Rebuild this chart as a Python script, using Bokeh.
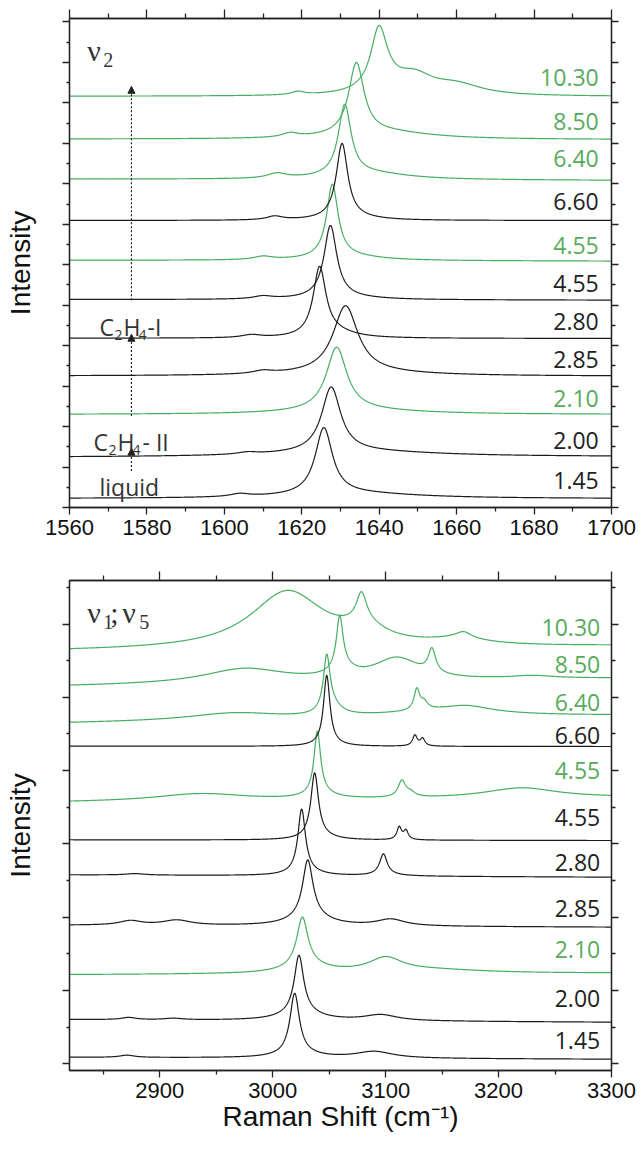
import numpy as np
from bokeh.plotting import figure
from bokeh.models import Range1d, FixedTicker, LinearAxis, Label, Arrow, NormalHead, CustomJSTickFormatter
from bokeh.layouts import column
from bokeh.embed import file_html
from bokeh.resources import INLINE

BLACK = "#1c1c1c"
GREEN = "#47ad63"
GREEN_TXT = "#58aa5c"
AX = "#222222"

# ---------------- data ----------------
pressures = ["1.45", "2.00", "2.10", "2.85", "2.80", "4.55", "4.55", "6.60", "6.40", "8.50", "10.30"]
is_green = [False, False, True, False, False, False, True, False, True, True, True]

# nu2 panel: baseline (left, right) and Lorentzian peaks (center, hwhm, height)
nu2_base_left = [0.222, 1.243, 2.299, 3.251, 4.184, 5.141, 6.112, 7.093, 8.118, 9.105, 10.162]
nu2_base_right = [0.220, 1.256, 2.299, 3.246, 4.177, 5.124, 6.088, 7.093, 8.084, 9.094, 10.157]
nu2_peaks = [
    [(1625.7, 2.7, 1.65), (1634, 20, 0.12), (1604, 3, 0.07)],
    [(1627.6, 3.0, 1.61), (1635, 25, 0.13), (1606, 3, 0.05)],
    [(1629.0, 3.2, 1.57), (1634, 20, 0.10)],
    [(1631.3, 3.9, 1.66), (1635, 20, 0.08), (1610, 3, 0.07)],
    [(1624.6, 2.0, 1.70), (1629, 6, 0.12), (1607, 3, 0.07)],
    [(1627.4, 2.0, 1.78), (1630, 10, 0.06), (1610, 3, 0.07)],
    [(1627.9, 1.8, 1.80), (1632, 10, 0.10), (1610, 3, 0.08)],
    [(1630.4, 1.8, 1.85), (1633, 8, 0.06), (1613, 2.5, 0.09)],
    [(1631.1, 2.0, 1.75), (1638, 12, 0.15), (1613.6, 3, 0.12)],
    [(1634.1, 2.4, 1.77), (1642, 14, 0.17), (1617, 2.5, 0.10)],
    [(1639.9, 2.5, 1.35), (1641, 4, 0.25), (1649, 6, 0.45), (1660, 8, 0.25), (1619, 2, 0.08)],
]
nu2_label_y = [0.675, 1.663, 2.694, 3.665, 4.605, 5.536, 6.483, 7.553, 8.616, 9.530, 10.635]

# nu1; nu5 panel
nu15_base_left = [0.088, 0.603, 1.215, 1.890, 2.578, 3.056, 3.567, 4.333, 4.645, 5.149, 5.630]
nu15_base_right = [0.062, 0.567, 1.235, 1.864, 2.546, 3.046, 3.632, 4.329, 4.746, 5.256, 5.696]
nu15_peaks = [
    [(3019.4, 5, 0.82), (3022, 20, 0.06), (3090, 20, 0.09), (2871, 8, 0.03)],
    [(3023.2, 5, 0.78), (3025, 20, 0.11), (3095.7, 18, 0.08), (2872.4, 8, 0.03), (2912, 10, 0.02)],
    [(3026.2, 6, 0.66), (3030, 22, 0.10), (3100, 18, 0.19), (3140, 60, 0.05)],
    [(3031, 5.5, 0.77), (3033, 20, 0.13), (3104.6, 15, 0.09), (2874, 12, 0.06), (2915, 15, 0.07)],
    [(3025.6, 4, 0.85), (3028, 15, 0.06), (3098, 4, 0.28), (3100, 15, 0.02), (2878, 10, 0.02)],
    [(3037.1, 4, 0.86), (3040, 15, 0.06), (3112, 2.5, 0.17), (3118, 2.5, 0.12)],
    [(3039.5, 3.5, 0.85), (3042, 15, 0.07), (3114.3, 4, 0.22), (3122, 5, 0.06), (3220, 40, 0.14), (2936, 50, 0.10)],
    [(3047.8, 3.4, 0.93), (3050, 12, 0.04), (3125.9, 2.5, 0.145), (3132.7, 2.5, 0.10)],
    [(3047.8, 3.5, 0.72), (3052, 10, 0.14), (3150, 70, 0.09), (3127.6, 3, 0.28), (3134, 4, 0.10), (3172, 25, 0.08), (2965.5, 50, 0.10)],
    [(3059.3, 3.5, 0.70), (3062, 12, 0.12), (2975, 45, 0.20), (3110, 25, 0.30), (3141, 4, 0.32), (3230, 25, 0.04)],
    [(3013, 40, 0.78), (3078.6, 5.5, 0.38), (3082, 22, 0.18), (3169, 8, 0.08), (3165, 30, 0.08)],
]
nu15_label_y = [0.318, 0.887, 1.555, 2.115, 2.742, 3.360, 4.001, 4.479, 4.925, 5.447, 5.948]

nu2_xticks = [1560, 1580, 1600, 1620, 1640, 1660, 1680, 1700]
nu2_xminor = [1570, 1590, 1610, 1630, 1650, 1670, 1690]
nu15_xticks = [2900, 3000, 3100, 3200, 3300]
nu15_xminor = [2850, 2950, 3050, 3150, 3250]


def spectrum(x, left, right, peaks):
    y = left + (right - left) * (x - x[0]) / (x[-1] - x[0])
    for c, w, h in peaks:
        y = y + h / (1.0 + ((x - c) / w) ** 2)
    return y


def style_axis(ax, ticks, minor, tick_out, minor_out, show_labels):
    ax.ticker = FixedTicker(ticks=ticks, minor_ticks=minor)
    ax.axis_line_color = AX
    ax.axis_line_width = 1.3
    ax.major_tick_line_color = AX
    ax.major_tick_line_width = 1.3
    ax.minor_tick_line_color = AX
    ax.minor_tick_line_width = 1.3
    ax.major_tick_in = 0
    ax.minor_tick_in = 0
    ax.major_tick_out = tick_out
    ax.minor_tick_out = minor_out
    ax.axis_label_text_font = "Liberation Sans"
    ax.axis_label_text_font_size = "28px"
    ax.axis_label_text_font_style = "normal"
    ax.axis_label_text_color = "#111111"
    if show_labels:
        ax.major_label_text_font = "Liberation Sans"
        ax.major_label_text_font_size = "22px"
        ax.major_label_text_color = "#111111"
        ax.major_label_standoff = 5
    else:
        ax.formatter = CustomJSTickFormatter(code="return ''")
        ax.major_label_text_font_size = "0px"
        ax.major_label_standoff = 0


def make_panel(height, xr, yr, border_top, border_bottom, xticks, xminor, yticks, yminor, xlabel=None):
    p = figure(width=640, height=height, x_range=Range1d(*xr), y_range=Range1d(*yr),
               output_backend="svg", toolbar_location=None,
               min_border_left=69, min_border_right=29,
               min_border_top=border_top, min_border_bottom=border_bottom)
    p.xgrid.visible = False
    p.ygrid.visible = False
    p.outline_line_color = AX
    p.outline_line_width = 1.3
    p.background_fill_color = "white"
    p.border_fill_color = "white"
    bottom = p.below[0]
    left = p.left[0]
    style_axis(bottom, xticks, xminor, 7, 4, True)
    if xlabel:
        bottom.axis_label = xlabel
        bottom.axis_label_standoff = 0
    style_axis(left, yticks, yminor, 7, 3, False)
    left.axis_label = "Intensity"
    left.axis_label_standoff = 27
    top = LinearAxis()
    style_axis(top, xticks, xminor, 9, 5, False)
    p.add_layout(top, "above")
    right = LinearAxis()
    style_axis(right, yticks, yminor, 7, 4, False)
    p.add_layout(right, "right")
    return p


def add_spectra(p, x, bl, br, peaks, label_y, label_x):
    for i in range(len(pressures)):
        y = spectrum(x, bl[i], br[i], peaks[i])
        p.line(x, y, line_color=GREEN if is_green[i] else BLACK, line_width=1.2)
        p.add_layout(Label(x=label_x, y=label_y[i], text=pressures[i], text_align="right",
                           text_baseline="middle", text_font="Open Sans", text_font_size="23px",
                           text_color=GREEN_TXT if is_green[i] else "#222222"))


def txt(p, x, y, text, size, font="Open Sans", dx=0, dy=0, color="#333333"):
    p.add_layout(Label(x=x, y=y, x_offset=dx, y_offset=dy, text=text, text_font=font,
                       text_font_size=size, text_color=color, text_align="left",
                       text_baseline="alphabetic"))


# ---------------- top panel: nu2 ----------------
p1 = make_panel(550, (1560, 1700), (0, 12.086), 18, 43, nu2_xticks, nu2_xminor,
                list(range(0, 13)), [k + 0.5 for k in range(0, 12)])
x1 = np.linspace(1560, 1700, 1401)
add_spectra(p1, x1, nu2_base_left, nu2_base_right, nu2_peaks, nu2_label_y, 1696.7)

# nu2 title
txt(p1, 1564.6, 11.30, "ν", "30px", font="Liberation Serif")
txt(p1, 1564.6, 11.30, "2", "20px", font="Liberation Serif", dx=16, dy=-10)

# phase labels and dotted arrows
arrow_x = 1576
for y0, y1 in [(5.124, 10.41), (2.264, 4.283), (0.905, 1.466)]:
    p1.add_layout(Arrow(x_start=arrow_x, y_start=y0, x_end=arrow_x, y_end=y1,
                        line_dash="2 2", line_width=1.2, line_color=AX,
                        end=NormalHead(size=7, fill_color=AX, line_color=AX)))
tx = 1567.75
txt(p1, tx, 4.464, "C", "23px")
txt(p1, tx, 4.464, "2", "14px", dx=15, dy=-8)
txt(p1, tx, 4.464, "H", "23px", dx=24)
txt(p1, tx, 4.464, "4", "14px", dx=39, dy=-8)
txt(p1, tx, 4.464, "-I", "23px", dx=48)
tx2 = 1566.2
txt(p1, tx2, 1.621, "C", "23px")
txt(p1, tx2, 1.621, "2", "14px", dx=15, dy=-8)
txt(p1, tx2, 1.621, "H", "23px", dx=24)
txt(p1, tx2, 1.621, "4", "14px", dx=39, dy=-8)
txt(p1, tx2, 1.621, "- II", "23px", dx=49)
txt(p1, tx, 0.509, "liquid", "23px")

# ---------------- bottom panel: nu1; nu5 ----------------
p2 = make_panel(603, (2820, 3300), (-0.0914, 6.594), 30, 83, nu15_xticks, nu15_xminor,
                list(range(0, 7)), [k + 0.5 for k in range(0, 7)], xlabel="Raman Shift (cm⁻¹)")
x2 = np.linspace(2820, 3300, 1921)
add_spectra(p2, x2, nu15_base_left, nu15_base_right, nu15_peaks, nu15_label_y, 3290)

bx = 2835.7
txt(p2, bx, 6.161, "ν", "30px", font="Liberation Serif")
txt(p2, bx, 6.161, "1", "20px", font="Liberation Serif", dx=16, dy=-10)
txt(p2, bx, 6.161, ";", "30px", font="Liberation Serif", dx=23)
txt(p2, bx, 6.161, "ν", "30px", font="Liberation Serif", dx=35)
txt(p2, bx, 6.161, "5", "20px", font="Liberation Serif", dx=52, dy=-10)

layout = column(p1, p2)
open("out.html", "w").write(file_html(layout, INLINE))
